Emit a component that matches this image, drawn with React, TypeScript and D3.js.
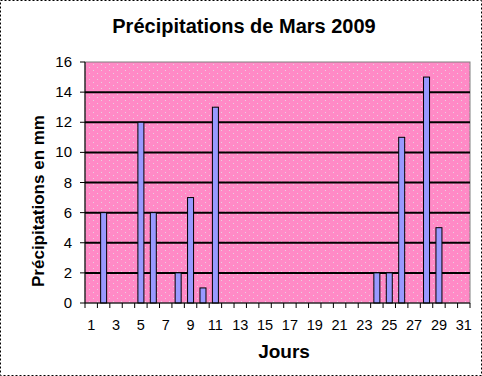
import React from "react";
import * as d3 from "d3";

const days: number[] = Array.from({ length: 31 }, (_, i) => i + 1);
const rainDays = [2, 5, 6, 8, 9, 10, 11, 24, 25, 26, 28, 29];
const rainValues = [6, 12, 6, 2, 7, 1, 13, 2, 2, 11, 15, 5];
const yTicks = [0, 2, 4, 6, 8, 10, 12, 14, 16];
const xLabels = [1, 3, 5, 7, 9, 11, 13, 15, 17, 19, 21, 23, 25, 27, 29, 31];
const title = "Précipitations de Mars 2009";
const yTitle = "Précipitations en mm";
const xTitle = "Jours";

export default function App() {
  const W = 482, H = 376;
  const left = 85, right = 470, top = 62, bottom = 303;
  const x = d3.scaleBand<number>().domain(days).range([left, right]).padding(0);
  const y = d3.scaleLinear().domain([0, 16]).range([bottom, top]);
  const bw = 6;
  const font = "Liberation Sans, Arial, sans-serif";
  const bounds = d3.range(0, 32).map((i) => left + i * x.step());
  return (
    <div style={{ position: "absolute", left: 0, top: 0 }}>
      <svg width={W} height={H} style={{ display: "block" }}>
        <defs>
          <pattern id="dots" width="8" height="6" patternUnits="userSpaceOnUse">
            <rect width="8" height="6" fill="#FF8AC6" />
            <rect x="1" y="1" width="1" height="1" fill="#E8D0E0" />
            <rect x="5" y="4" width="1" height="1" fill="#E8D0E0" />
          </pattern>
        </defs>
        <rect x={0} y={0} width={W} height={H} fill="#fff" />
        <rect x={0.5} y={0.5} width={W - 1} height={H - 1} fill="none" stroke="#000" strokeDasharray="2,2" />
        <text x={244} y={33} textAnchor="middle" fontFamily={font} fontWeight="bold" fontSize={20}>{title}</text>
        <rect x={left} y={top} width={right - left} height={bottom - top} fill="url(#dots)" stroke="#808080" strokeWidth={1} />
        {yTicks.filter((t) => t > 0 && t < 16).map((t) => (
          <line key={t} x1={left} x2={right} y1={y(t)} y2={y(t)} stroke="#000" strokeWidth={2} />
        ))}
        {rainDays.map((d, i) => (
          <rect key={d} x={x(d)! + x.bandwidth() / 2 - bw / 2} y={y(rainValues[i])} width={bw} height={bottom - y(rainValues[i])}
            fill="#9999FF" stroke="#000" strokeWidth={1} />
        ))}
        <line x1={left} x2={left} y1={top} y2={bottom} stroke="#000" />
        <line x1={left} x2={right} y1={bottom} y2={bottom} stroke="#000" />
        {yTicks.map((t) => (
          <g key={t}>
            <line x1={left - 5} x2={left} y1={y(t)} y2={y(t)} stroke="#000" />
            <text x={72} y={y(t) + 5} textAnchor="end" fontFamily={font} fontSize={15}>{t}</text>
          </g>
        ))}
        {bounds.map((b, i) => (
          <line key={i} x1={b} x2={b} y1={bottom} y2={bottom + 5} stroke="#000" />
        ))}
        {xLabels.map((d) => (
          <text key={d} x={x(d)! + x.bandwidth() / 2} y={330} textAnchor="middle" fontFamily={font} fontSize={14.5}>{d}</text>
        ))}
        <text x={284} y={358} textAnchor="middle" fontFamily={font} fontWeight="bold" fontSize={19}>{xTitle}</text>
        <text transform="translate(44,201) rotate(-90)" textAnchor="middle" fontFamily={font} fontWeight="bold" fontSize={17}>{yTitle}</text>
      </svg>
    </div>
  );
}
